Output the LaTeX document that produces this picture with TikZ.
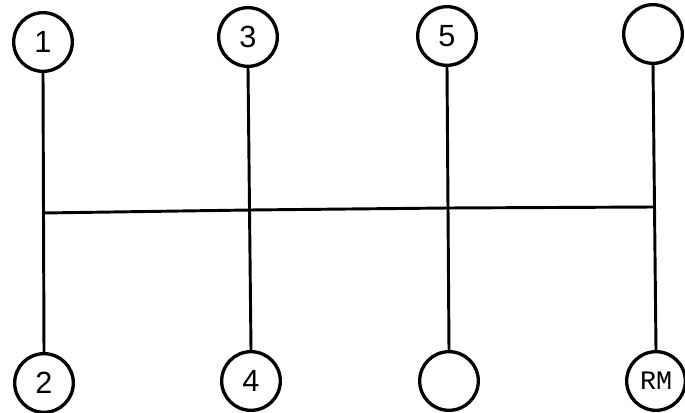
\documentclass[tikz,border=0pt]{standalone}
\usepackage{fontspec}
\setmainfont{Liberation Sans}
\newfontfamily\gearmono{Liberation Mono}
\begin{document}
\begin{tikzpicture}[x=0.75pt,y=-0.75pt,
  gear/.style={circle,draw,line width=2.5pt,minimum size=44pt,inner sep=0pt,
    font=\fontsize{23}{23}\selectfont},
  rod/.style={line width=2.2pt}]
\useasboundingbox (0,0) rectangle (685,413);
\node[gear] (g1) at (43,42) {1};
\node[gear] (g3) at (248,37) {3};
\node[gear] (g5) at (447,36) {5};
\node[gear] (gt) at (653,34) {};
\node[gear] (g2) at (44,383) {2};
\node[gear] (g4) at (251,381) {4};
\node[gear] (gb) at (449,381) {};
\node[gear,font=\gearmono\fontsize{20}{20}\selectfont] (rm) at (656,381) {RM};
\draw[rod] (g1.south) -- (g2.north);
\draw[rod] (g3.south) -- (g4.north);
\draw[rod] (g5.south) -- (gb.north);
\draw[rod] (gt.south) -- (rm.north);
\coordinate (b1) at (43,213);
\coordinate (b2) at (250,210);
\coordinate (b3) at (448,208);
\coordinate (b4) at (654,207);
\draw[rod] (b1) -- (b2) -- (b3) -- (b4);
\end{tikzpicture}
\end{document}
